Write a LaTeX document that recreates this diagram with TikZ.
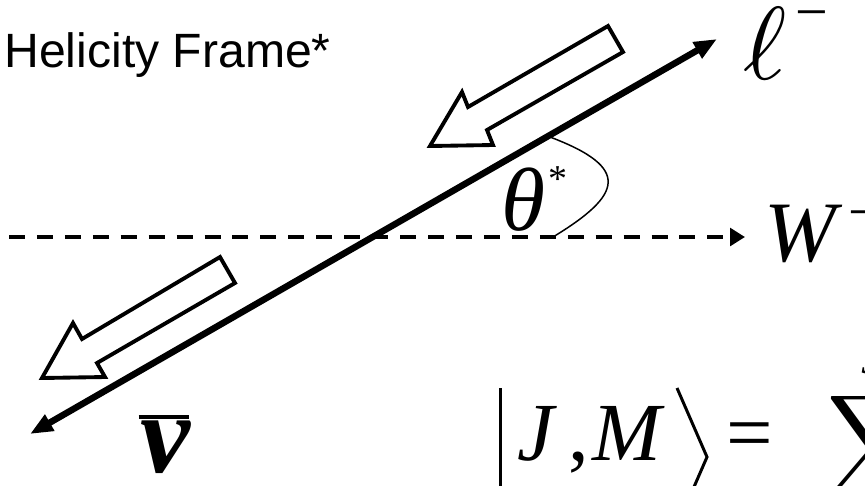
\documentclass[tikz,border=0pt]{standalone}
\usepackage{fontspec}
\setmainfont{Liberation Sans}
\newfontfamily\tnr{Liberation Serif}
\usetikzlibrary{arrows.meta}
\tikzset{>={Triangle[length=13pt,width=10pt]}}

\begin{document}
\begin{tikzpicture}[x=0.02cm,y=-0.02cm,
    lbl/.style={anchor=base west,inner sep=0pt},
    hollowarrow/.style={draw,line width=2.2pt,fill=white,line join=miter},
    delim/.style={line width=1.7pt}]
  \useasboundingbox (0,0) rectangle (865,485);
  \clip (0,0) rectangle (865,485);
  % end points of the axes
  \coordinate (wstart) at (9,237);
  \coordinate (wend) at (745,237);
  \coordinate (nutip) at (30,434);
  \coordinate (leptip) at (717,39);
  \coordinate (arcstart) at (550,137);
  \coordinate (arcend) at (553,237);
  % W direction and decay axis
  \draw[line width=2.6pt,dash pattern=on 9.1pt off 6.8pt,
    -{Triangle[length=8.5pt,width=10pt]}] (wstart) -- (wend);
  \draw[line width=3.7pt,<->] (nutip) -- (leptip);
  % helicity arrows
  \draw[hollowarrow] (430,146) -- (462,92) -- (468,107) -- (608,26)
    -- (623,52) -- (487,130) -- (493,145) -- cycle;
  \draw[hollowarrow] (42,378) -- (73,323) -- (82,339) -- (220,257)
    -- (235,283) -- (97,363) -- (105,377) -- cycle;
  % angle
  \draw[line width=0.85pt] (arcstart) .. controls (632,168) and (622,195) .. (arcend);
  % labels
  \node[lbl] (frame) at (4,67) {\fontsize{27.4pt}{32pt}\selectfont Helicity Frame*};
  \node[lbl,scale=5.9] (lep) at (741,79) {$\ell$\hspace{0.9pt}%
    \raisebox{4.6pt}{\tnr\fontsize{5.6pt}{6pt}\selectfont −}};
  \node[lbl] (wboson) at (764,261) {\tnr\itshape\fontsize{49pt}{54pt}\selectfont W\hspace{7pt}%
    \raisebox{17pt}{\upshape\fontsize{33pt}{36pt}\selectfont −}};
  \node[lbl] (theta) at (501,230) {\tnr\itshape\fontsize{51pt}{56pt}\selectfont θ\hspace{2pt}%
    \raisebox{22pt}{\upshape\fontsize{21.6pt}{24pt}\selectfont *}};
  \node[lbl] (nubar) at (140,472) {\tnr\bfseries\itshape\fontsize{64pt}{70pt}\selectfont
    \rlap{\hspace{-1pt}\rule[30.2pt]{28.5pt}{2.3pt}}ν};
  % state
  \draw[delim] (500,388) -- (500,490);
  \node[lbl] (ket) at (517,460) {\tnr\itshape\fontsize{47pt}{52pt}\selectfont
    J\hspace{8.5pt}{\upshape,}\hspace{1.7pt}M};
  \draw[delim] (677,388) -- (707,457) -- (677,526);
  \node[lbl] (equals) at (726,460) {\tnr\fontsize{47pt}{52pt}\selectfont =};
  \node[anchor=north west,inner sep=0pt,scale=4] (sumsign) at (826,388)
    {$\displaystyle\sum$};
  \node[lbl] (sumtop) at (861,373) {\tnr\itshape\fontsize{26pt}{30pt}\selectfont J};
\end{tikzpicture}
\end{document}
